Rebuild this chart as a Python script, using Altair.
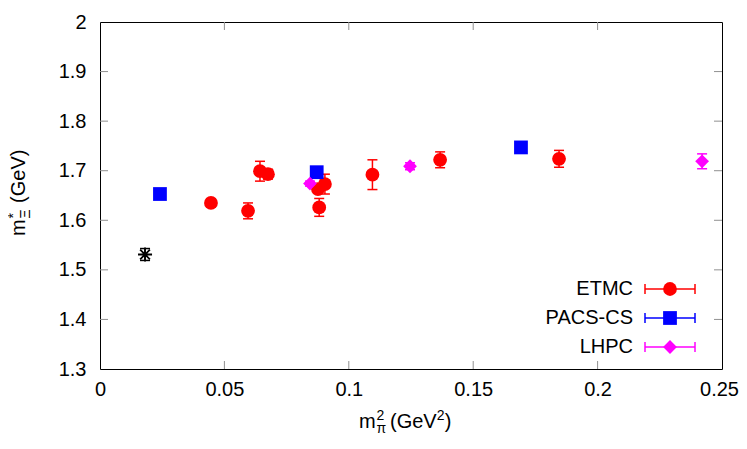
import altair as alt
import pandas as pd

W, H = 622, 347
FONT = "Liberation Sans"

# ---- data ----
etmc_x = [0.0446, 0.0595, 0.0643, 0.0675, 0.0876, 0.0904, 0.0881, 0.1095, 0.1367, 0.1845]
etmc_y = [1.635, 1.619, 1.699, 1.693, 1.663, 1.673, 1.626, 1.692, 1.722, 1.724]
etmc_e = [0.008, 0.016, 0.020, 0.010, 0.008, 0.020, 0.018, 0.030, 0.016, 0.017]

pacs_x = [0.0241, 0.0871, 0.1692]
pacs_y = [1.653, 1.697, 1.747]
pacs_e = [0.004, 0.004, 0.004]

lhpc_x = [0.0844, 0.1246, 0.2420]
lhpc_y = [1.674, 1.709, 1.719]
lhpc_e = [0.005, 0.007, 0.015]

phys_x = [0.0181]
phys_y = [1.531]
phys_e = [0.012]

series_names = ["ETMC", "PACS-CS", "LHPC", "phys"]
series_colors = ["#ff0000", "#0000ff", "#ff00ff", "#000000"]
series_shapes = ["circle", "square", "diamond",
                 "M-1,0L1,0M0,-1L0,1M-0.7,-0.7L0.7,0.7M-0.7,0.7L0.7,-0.7"]

x_ticks = [0, 0.05, 0.1, 0.15, 0.2, 0.25]
y_ticks = [1.3, 1.4, 1.5, 1.6, 1.7, 1.8, 1.9, 2.0]

legend_names = ["ETMC", "PACS-CS", "LHPC"]
legend_rows = [267, 296, 325]

rows = []
for name, xs, ys, es in [("ETMC", etmc_x, etmc_y, etmc_e),
                         ("PACS-CS", pacs_x, pacs_y, pacs_e),
                         ("LHPC", lhpc_x, lhpc_y, lhpc_e),
                         ("phys", phys_x, phys_y, phys_e)]:
    for x, y, e in zip(xs, ys, es):
        rows.append({"series": name, "x": x, "y": y, "lo": y - e, "hi": y + e})
df = pd.DataFrame(rows)

xscale = alt.Scale(domain=[0, 0.25], nice=False, zero=False)
yscale = alt.Scale(domain=[1.3, 2.0], nice=False, zero=False)
cscale = alt.Scale(domain=series_names, range=series_colors)
sscale = alt.Scale(domain=series_names, range=series_shapes)

xaxis = alt.Axis(values=x_ticks, format="~g", grid=False, ticks=False, tickSize=0, domain=False,
                 labelFont=FONT, labelFontSize=20, labelColor="black", labelPadding=10,
                 labelOffset=alt.ExprRef("datum.value > 0.24 ? -3 : 0"),
                 title=None, labelFlush=False, labelOverlap=False)
yaxis = alt.Axis(values=y_ticks, format="~g", grid=False, ticks=False, tickSize=0, domain=False,
                 labelFont=FONT, labelFontSize=20, labelColor="black", labelPadding=14,
                 title=None, labelFlush=False, labelOverlap=False)

X = alt.X("x:Q", scale=xscale, axis=xaxis)
col = alt.Color("series:N", scale=cscale, legend=None)

base = alt.Chart(df)

bars = base.mark_rule(strokeWidth=1.5).encode(
    x=X, y=alt.Y("lo:Q", scale=yscale, axis=yaxis), y2="hi:Q", color=col)
cap_lo = base.mark_point(shape="stroke", size=100, filled=False, strokeWidth=1.5, opacity=1).encode(
    x=X, y=alt.Y("lo:Q", scale=yscale, axis=yaxis), color=col)
cap_hi = base.mark_point(shape="stroke", size=100, filled=False, strokeWidth=1.5, opacity=1).encode(
    x=X, y=alt.Y("hi:Q", scale=yscale, axis=yaxis), color=col)

pts = base.transform_filter(alt.datum.series != "phys").mark_point(
    filled=True, size=190, opacity=1, strokeWidth=0).encode(
    x=X, y=alt.Y("y:Q", scale=yscale, axis=yaxis), color=col,
    shape=alt.Shape("series:N", scale=sscale, legend=None))
star = base.transform_filter(alt.datum.series == "phys").mark_point(
    filled=False, size=196, opacity=1, strokeWidth=1.8).encode(
    x=X, y=alt.Y("y:Q", scale=yscale, axis=yaxis), color=col,
    shape=alt.Shape("series:N", scale=sscale, legend=None))

# inward mirrored ticks
TICK = "#909090"
xt = pd.DataFrame({"t": x_ticks[1:-1]})
yt = pd.DataFrame({"t": y_ticks[1:-1]})
xtick_b = alt.Chart(xt).mark_rule(color=TICK, strokeWidth=1).encode(
    x=alt.X("t:Q", scale=xscale, axis=xaxis), y=alt.value(H), y2=alt.value(H - 8))
xtick_t = alt.Chart(xt).mark_rule(color=TICK, strokeWidth=1).encode(
    x=alt.X("t:Q", scale=xscale, axis=xaxis), y=alt.value(0), y2=alt.value(8))
ytick_l = alt.Chart(yt).mark_rule(color=TICK, strokeWidth=1).encode(
    y=alt.Y("t:Q", scale=yscale, axis=yaxis), x=alt.value(0), x2=alt.value(8))
ytick_r = alt.Chart(yt).mark_rule(color=TICK, strokeWidth=1).encode(
    y=alt.Y("t:Q", scale=yscale, axis=yaxis), x=alt.value(W - 8), x2=alt.value(W))

# legend (gnuplot style: label left of an error-bar sample)
leg = pd.DataFrame({"series": legend_names, "py": legend_rows})
leg_text = alt.Chart(leg).mark_text(align="right", baseline="middle", font=FONT,
                                    fontSize=20, color="black").encode(
    x=alt.value(533), y=alt.Y("py:Q", scale=None), text="series:N")
leg_line = alt.Chart(leg).mark_rule(strokeWidth=1.5).encode(
    x=alt.value(545), x2=alt.value(595), y=alt.Y("py:Q", scale=None), color=col)
leg_cap1 = alt.Chart(leg).mark_point(shape="M0,-1L0,1", size=100, filled=False,
                                     strokeWidth=1.5, opacity=1).encode(
    x=alt.value(545), y=alt.Y("py:Q", scale=None), color=col)
leg_cap2 = alt.Chart(leg).mark_point(shape="M0,-1L0,1", size=100, filled=False,
                                     strokeWidth=1.5, opacity=1).encode(
    x=alt.value(595), y=alt.Y("py:Q", scale=None), color=col)
leg_pt = alt.Chart(leg).mark_point(filled=True, size=190, opacity=1, strokeWidth=0).encode(
    x=alt.value(570), y=alt.Y("py:Q", scale=None), color=col,
    shape=alt.Shape("series:N", scale=sscale, legend=None))

# axis titles with sub/superscripts
def txt(s, x, y, size, angle=0):
    return alt.Chart(pd.DataFrame({"s": [s]})).mark_text(
        align="left", baseline="alphabetic", font=FONT, fontSize=size,
        color="black", angle=angle).encode(x=alt.value(x), y=alt.value(y), text="s:N")

xb = 406
x0 = 259
xtitle = [
    txt("m", x0, xb, 20),
    txt("2", x0 + 17.5, xb - 8, 14),
    txt("π", x0 + 17.5, xb + 5, 14),
    txt("(GeV", x0 + 31, xb, 20),
    txt("2", x0 + 31 + 46.7, xb - 8, 14),
    txt(")", x0 + 31 + 46.7 + 8, xb, 20),
]

yb = -75
y0 = 214
ytitle = [
    txt("m", yb, y0, 20, 270),
    txt("Ξ", yb + 5, y0 - 17.5, 14, 270),
    txt("*", yb - 7, y0 - 17.5, 14, 270),
    txt("(GeV)", yb, y0 - 17.5 - 10 - 5.6, 20, 270),
]

chart = alt.layer(
    xtick_b, xtick_t, ytick_l, ytick_r,
    bars, cap_lo, cap_hi, pts, star,
    leg_line, leg_cap1, leg_cap2, leg_pt, leg_text,
    *xtitle, *ytitle,
).properties(
    width=W, height=H,
    autosize=alt.AutoSizeParams(type="none"),
    padding={"left": 92, "top": 14, "right": 17, "bottom": 70},
).configure_view(stroke="black", strokeWidth=1)

chart.save("out.html", embed_options={"renderer": "svg", "actions": False})
